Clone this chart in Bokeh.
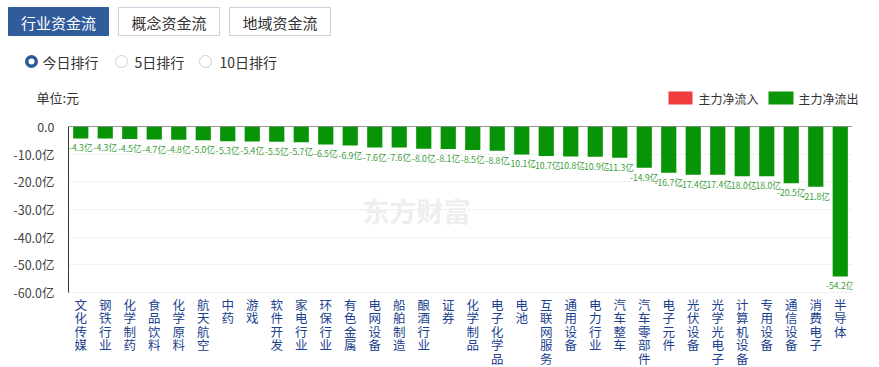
from bokeh.plotting import figure
from bokeh.models import Range1d, FactorRange, FixedTicker, Span, Label, ColumnDataSource
from bokeh.embed import file_html
from bokeh.resources import INLINE

FONT = "Noto Sans CJK SC"

categories = ["文化传媒", "钢铁行业", "化学制药", "食品饮料", "化学原料", "航天航空", "中药", "游戏",
              "软件开发", "家电行业", "环保行业", "有色金属", "电网设备", "船舶制造", "酿酒行业", "证券",
              "化学制品", "电子化学品", "电池", "互联网服务", "通用设备", "电力行业", "汽车整车", "汽车零部件",
              "电子元件", "光伏设备", "光学光电子", "计算机设备", "专用设备", "通信设备", "消费电子", "半导体"]
values = [-4.3, -4.3, -4.5, -4.7, -4.8, -5.0, -5.3, -5.4,
          -5.5, -5.7, -6.5, -6.9, -7.6, -7.6, -8.0, -8.1,
          -8.5, -8.8, -10.1, -10.7, -10.8, -10.9, -11.3, -14.9,
          -16.7, -17.4, -17.4, -18.0, -18.0, -20.5, -21.8, -54.2]
y_ticks = [0, -10, -20, -30, -40, -50, -60]
y_tick_labels = ["0.0", "-10.0亿", "-20.0亿", "-30.0亿", "-40.0亿", "-50.0亿", "-60.0亿"]
tabs = ["行业资金流", "概念资金流", "地域资金流"]
radios = ["今日排行", "5日排行", "10日排行"]
legend_items = ["主力净流入", "主力净流出"]

# ---------------- header (coordinates = page pixels) ----------------
W = 879
HH = 116
hdr = figure(width=W, height=HH, x_range=Range1d(0, W), y_range=Range1d(HH, 0),
             toolbar_location=None, output_backend="svg", min_border=0)
hdr.axis.visible = False
hdr.grid.visible = False
hdr.outline_line_color = None

tab_left = [8, 118, 229]
tab_right = [108, 219, 330]
hdr.quad(left=tab_left, right=tab_right, top=[7, 7, 7], bottom=[35, 35, 35],
         fill_color=["#305c9c", "#ffffff", "#ffffff"],
         line_color=["#305c9c", "#c9d2de", "#c9d2de"], line_width=1)
hdr.text(x=[(a + b) / 2 for a, b in zip(tab_left, tab_right)], y=[21.5, 21.5, 21.5], text=tabs,
         text_align="center", text_baseline="middle", text_font_size="15px",
         text_color=["#ffffff", "#333333", "#333333"], text_font={"value": FONT})

rx = [31, 121, 205]
hdr.scatter(x=[rx[0]], y=[61], size=9.5, fill_color="#ffffff", line_color="#2f5b9b", line_width=3.5)
hdr.scatter(x=rx[1:], y=[61, 61], size=12, fill_color="#ffffff", line_color="#cfcfcf", line_width=1)
hdr.text(x=[42, 134, 219], y=[61, 61, 61], text=radios, text_align="left", text_baseline="middle",
         text_font_size="14px", text_color="#333333", text_font={"value": FONT})

hdr.text(x=[36], y=[97], text=["单位:元"], text_align="left", text_baseline="middle",
         text_font_size="13px", text_color="#333333", text_font={"value": FONT})
hdr.quad(left=[668, 768], right=[692, 793], top=[91, 91], bottom=[104, 104],
         fill_color=["#f03c3c", "#0b960b"], line_color=None)
hdr.text(x=[698, 798], y=[97.5, 97.5], text=legend_items, text_align="left", text_baseline="middle",
         text_font_size="12px", text_color="#333333", text_font={"value": FONT})

# ---------------- chart ----------------
vert = ["\n".join(c) for c in categories]
labels = [f"{v:.1f}亿" for v in values]
src = ColumnDataSource(dict(x=categories, v=values, top=[0] * len(values), lab=labels,
                            vert=vert, base=[-60] * len(values)))

TOP = 10
FRAME_H = 367 - HH - TOP
p = figure(width=W, height=TOP + FRAME_H, x_range=FactorRange(factors=categories),
           y_range=Range1d(-60 * FRAME_H / 166.0, 0),
           toolbar_location=None, output_backend="svg", x_axis_location=None,
           min_border_left=68, min_border_right=27, min_border_top=TOP, min_border_bottom=0)
p.outline_line_color = None
p.xgrid.visible = False
p.ygrid.ticker = FixedTicker(ticks=y_ticks)
p.ygrid.grid_line_color = "#e3e3e3"
p.ygrid.grid_line_dash = "2 2"

p.yaxis.ticker = FixedTicker(ticks=y_ticks)
p.yaxis.bounds = (-60, 0)
p.yaxis.major_label_overrides = {t: l for t, l in zip(y_ticks, y_tick_labels)}
p.yaxis.axis_line_color = "#333333"
p.yaxis.major_tick_line_color = None
p.yaxis.minor_tick_line_color = None
p.yaxis.major_label_text_font_size = "12.5px"
p.yaxis.major_label_text_color = "#444444"
p.yaxis.major_label_text_font = FONT
p.yaxis.major_label_standoff = 8

p.add_layout(Label(x=14.2, y=-30.4, text="东方财富", text_font_size="27px", text_font_style="bold",
                   text_color="#eeeeee", text_align="center", text_baseline="middle", text_font=FONT))

p.vbar(x="x", top="top", bottom="v", width=0.62, source=src, fill_color="#079507", line_color=None)
p.text(x="x", y="v", text="lab", source=src, y_offset=3, text_align="center", text_baseline="top",
       text_font_size="8.7px", text_color="#3a9d3a", text_font={"value": FONT})
p.text(x="x", y="base", text="vert", source=src, y_offset=2, text_align="center", text_baseline="top",
       text_font_size="12.5px", text_line_height=0.715, text_color="#213f8f", text_font={"value": FONT})
p.add_layout(Span(location=0, dimension="width", line_color="#333333", line_width=1))

open("out.html", "w").write(file_html([hdr, p], INLINE))
